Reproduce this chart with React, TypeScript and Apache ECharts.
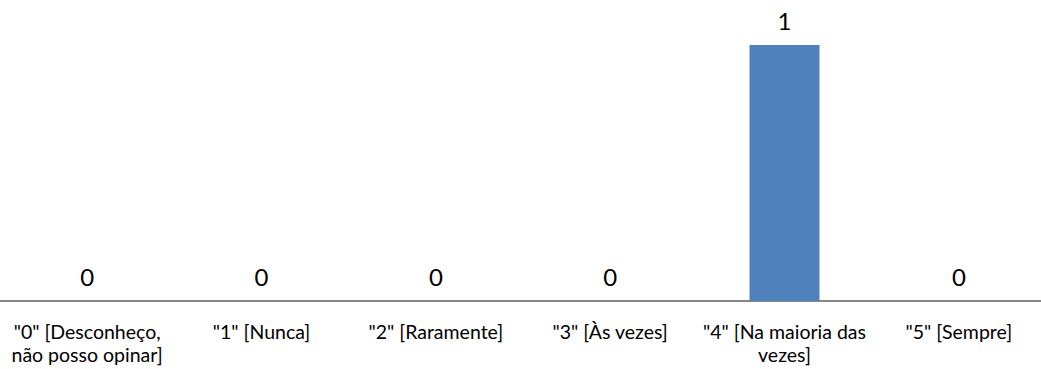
import React, { useEffect, useRef } from "react";
import * as echarts from "echarts";

const categories = [
  '"0" [Desconheço,\nnão posso opinar]',
  '"1" [Nunca]',
  '"2" [Raramente]',
  '"3" [Às vezes]',
  '"4" [Na maioria das\nvezes]',
  '"5" [Sempre]',
];
const values = [0, 0, 0, 0, 1, 0];

export default function App() {
  const ref = useRef<HTMLDivElement>(null);
  useEffect(() => {
    if (!ref.current) return;
    const chart = echarts.init(ref.current, null, { renderer: "svg" });
    chart.setOption({
      animation: false,
      grid: { left: 0, right: 0, top: 45, bottom: 68, containLabel: false },
      xAxis: {
        type: "category",
        data: categories,
        axisLine: { show: true, lineStyle: { color: "#868686", width: 2 } },
        axisTick: { show: false },
        axisLabel: {
          interval: 0,
          color: "#000",
          fontFamily: "Lato",
          fontSize: 19.5,
          lineHeight: 23,
          margin: 19,
        },
      },
      yAxis: {
        type: "value",
        min: 0,
        max: 1,
        show: false,
        splitLine: { show: false },
      },
      series: [
        {
          type: "bar",
          data: values,
          barWidth: 70,
          itemStyle: { color: "#4F81BD" },
          label: {
            show: true,
            position: "top",
            distance: 13,
            color: "#000",
            fontFamily: "Lato",
            fontSize: 24,
          },
        },
      ],
    });
    return () => chart.dispose();
  }, []);
  return (
    <div
      style={{
        position: "absolute",
        left: 0,
        top: 0,
        width: 1041,
        height: 369,
        overflow: "hidden",
      }}
    >
      <div ref={ref} style={{ width: 1046, height: 369 }} />
    </div>
  );
}
